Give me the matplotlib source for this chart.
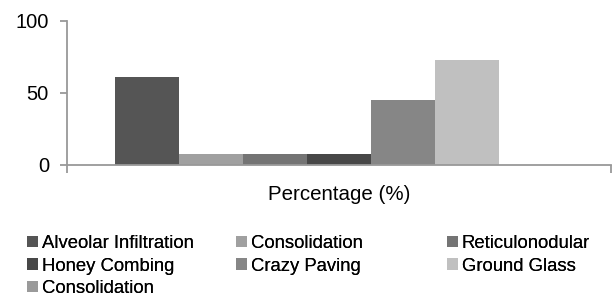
import matplotlib
matplotlib.use("Agg")
import matplotlib.pyplot as plt
import numpy as np

plt.rcParams['font.family'] = ['Liberation Sans', 'DejaVu Sans']

series = ["Alveolar Infiltration", "Consolidation", "Reticulonodular",
          "Honey Combing", "Crazy Paving", "Ground Glass", "Consolidation"]
values = [61, 7.6, 7.6, 7.6, 45, 73, 0]
colors = ["#555555", "#a0a0a0", "#747474", "#474747", "#868686", "#c0c0c0", "#9a9a9a"]
category = "Percentage (%)"
yticks = [0, 50, 100]

W, H = 612, 297
fig = plt.figure(figsize=(W / 100, H / 100), dpi=100)
ax = fig.add_axes([67 / W, (H - 165) / H, (611 - 67) / W, 144 / H])

n = len(series)
group_w = 449 / 544
bw = group_w / n
bars = []
for i, (s, v, c) in enumerate(zip(series, values, colors)):
    x = -group_w / 2 + bw * (i + 0.5)
    b = ax.bar(x, v, width=bw, color=c, label=s, linewidth=0)
    bars.append(b)

ax.set_xlim(-0.5, 0.5)
ax.set_ylim(0, 100)
ax.set_yticks(yticks)
ax.set_xticks([-0.5, 0.5])
ax.set_xticklabels(["", ""])
ax.set_xlabel(category, fontsize=14.8, labelpad=5)
for sp in ["top", "right"]:
    ax.spines[sp].set_visible(False)
for sp in ["left", "bottom"]:
    ax.spines[sp].set_color("#999999")
    ax.spines[sp].set_linewidth(1.3)
ax.tick_params(axis='y', length=5, width=1.3, color="#999999", labelsize=14.5, pad=8)
ax.tick_params(axis='x', length=6, width=1.3, color="#999999", direction='out')

cols = [[0, 3, 6], [1, 4], [2, 5]]
xs = [27, 236, 447]
for col, x0 in zip(cols, xs):
    leg = fig.legend([bars[i] for i in col], [series[i] for i in col],
                     loc='upper left', bbox_to_anchor=(x0 / W, (H - 235) / H),
                     frameon=False, fontsize=13.3, borderpad=0, borderaxespad=0,
                     handlelength=0.6, handleheight=0.6, handletextpad=0.2,
                     labelspacing=0.3)
    fig.add_artist(leg)

fig.savefig("out.png", dpi=100)
